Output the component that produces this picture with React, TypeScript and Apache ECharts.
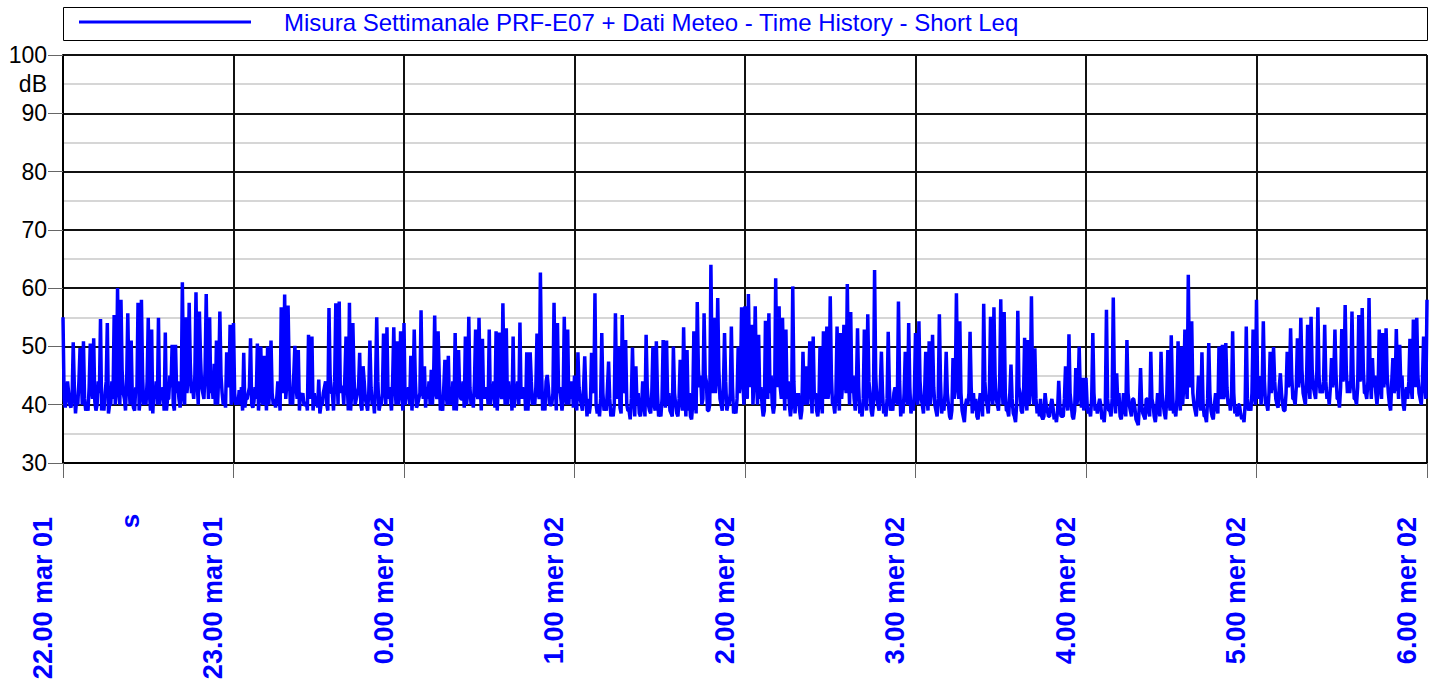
import React, { useEffect, useRef } from "react";
import * as echarts from "echarts";

const seriesName = "Misura Settimanale PRF-E07 + Dati Meteo - Time History - Short Leq";
const hourLabels = ["22.00 mar 01", "23.00 mar 01", "0.00 mer 02", "1.00 mer 02", "2.00 mer 02", "3.00 mer 02", "4.00 mer 02", "5.00 mer 02", "6.00 mer 02"];
const stepSeconds = 24;

// Short Leq (dB), hour by hour, three interleaved readings per 72 s:
// "a" = spikes / dips, "b" and "c" = body of the trace
const hour22a = [55, 41, 40, 50.7, 41, 49.7, 50.9, 40, 50.5, 51.4, 40, 54.7, 39, 54, 40, 55.4, 60, 58, 41, 55.7, 51, 39, 57.5, 58, 42, 54.9, 52.9, 41, 54.9, 42, 52.4, 41, 50.3, 50.3, 41, 61, 55, 57.5, 43, 59.3, 56, 42, 59, 55, 41, 51, 56, 40, 49, 53.7];
const hour22b = [41, 44, 39.5, 43, 40, 45, 41, 39, 43, 40.5, 44, 39, 42, 38.5, 44, 40, 43, 46, 39, 44, 41, 43, 39, 45, 40, 42, 38.5, 44, 40, 43, 39, 45, 40, 42, 39.5, 46, 42, 47, 41, 44, 48, 41, 46, 42, 47, 40, 45, 41, 44, 40];
const hour22c = [39.5, 42, 41, 38.5, 44, 40, 39, 43, 41, 39, 42, 40.5, 44, 40, 41, 43, 40, 42, 44, 40, 39.5, 42, 41, 40, 44, 39, 43, 40, 42, 39, 41, 43, 39, 44, 41, 40, 44, 42, 45, 40, 43, 46, 41, 44, 40, 45, 42, 39.5, 43, 41];
const hour23a = [54, 41, 40, 48.9, 41, 51.4, 40.5, 50.5, 50, 48.4, 50, 51, 41, 44, 56.7, 58.9, 57, 43, 50.1, 49.4, 41, 40, 52, 51.7, 40, 44.3, 40, 44, 56.6, 42, 57.4, 57.7, 43, 51.7, 57.5, 54, 41, 48.9, 46.6, 40, 51, 41, 55, 40, 52.2, 53.3, 41, 53.3, 50.9, 52.6];
const hour23b = [42, 40, 43, 39.5, 42, 40, 43, 39, 41, 44, 40, 42, 39.5, 42, 45, 41, 46, 40, 43, 39, 42, 40.5, 43, 39, 41, 38.5, 42, 40, 45, 39, 46, 42, 40, 44, 39, 45, 42, 40, 44, 39, 43, 38.5, 44, 40, 45, 41, 39, 44, 40, 43];
const hour23c = [40, 42.5, 39, 41, 43, 39.5, 41, 42, 40, 39, 43, 40, 41, 39, 42, 44, 40, 45, 41, 42, 40, 39, 41, 42, 39.5, 40, 43, 39, 42, 44, 40, 43, 45, 39, 42, 40, 43, 39, 41, 42, 40, 44, 39, 42, 40, 43, 44, 40, 42, 39];
const hour00a = [54, 41, 48.4, 52.9, 40, 56.2, 46.6, 41, 46, 55.3, 52.6, 40, 47.7, 48.4, 40, 52.3, 49.4, 41, 51.7, 55.1, 41, 52.9, 54.9, 51.3, 41, 52.9, 41, 52.6, 52.4, 57.4, 53.1, 41, 51.7, 42, 54.1, 41, 49, 49, 41, 52.2, 62.7, 42, 45.1, 40, 57.5, 54, 41, 55.1, 52.9, 41];
const hour00b = [40, 43, 39, 44, 41, 43, 39.5, 44, 40, 42, 45, 39, 42, 40, 44, 39, 42, 44, 40, 43, 39.5, 42, 44, 41, 43, 40, 44, 39, 42, 45, 40, 43, 39.5, 44, 41, 43, 39, 44, 40, 42, 46, 39, 43, 40, 44, 42, 39, 43, 40, 44];
const hour00c = [42, 40, 43, 39.5, 42, 41, 43, 40, 44, 41, 39, 43, 40, 42, 39, 43, 41, 39.5, 42, 40, 44, 41, 39, 43, 40, 42, 39.5, 43, 41, 40, 44, 39, 42, 40, 43, 39, 42, 40, 43, 41, 39, 44, 40, 42, 39, 43, 41, 40, 44, 39.5];
const hour01a = [45, 49, 40, 48.3, 41, 48.9, 59.1, 40, 52.3, 40, 47.4, 39, 55.7, 50, 55.4, 51.1, 39, 49.8, 46.6, 38.5, 44, 52, 39, 50, 50.9, 38.5, 51.1, 51, 39, 50, 38.5, 47.7, 53.3, 49.4, 38, 52.6, 57.6, 45, 55.7, 39, 64, 54.9, 58.3, 40, 52.3, 40, 53.4, 39, 50, 56.7];
const hour01b = [41, 43, 39, 42, 38.5, 43, 40, 38, 42, 39, 41, 38, 43, 39.5, 42, 40, 37.5, 42, 40, 38, 41, 43, 38.5, 40, 42, 38, 43, 40, 38.5, 42, 38, 41, 43, 39, 37.5, 42, 46, 40, 45, 39, 47, 42, 46, 39, 44, 40, 43, 38.5, 42, 45];
const hour01c = [39, 41, 43, 38, 40, 42, 38.5, 41, 39, 43, 38, 40, 41, 38.5, 43, 39, 41, 38, 42, 39.5, 38, 40, 42, 39, 38, 41, 39.5, 42, 38, 40, 41, 39, 38, 42, 40, 38.5, 43, 41, 44, 40, 42, 45, 41, 43, 39, 42, 38.5, 41, 44, 40];
const hour02a = [56.9, 59, 53.7, 56.9, 52, 40, 54.4, 55.7, 40, 61.7, 56.9, 54.9, 52.9, 40, 60.3, 42, 39, 49.1, 46.6, 50.9, 51.7, 39, 50, 52.6, 53.4, 58.6, 40, 53.4, 52.3, 53.7, 60.7, 55.9, 41, 53.1, 39, 52.9, 55.5, 39, 63.1, 40, 49.1, 39, 52.5, 40, 43, 57.7, 40, 49.1, 54, 40];
const hour02b = [44, 47, 40, 45, 41, 38, 44, 42, 38.5, 46, 43, 45, 41, 38, 44, 40, 37.5, 42, 40, 43, 41, 38, 42, 44, 41, 45, 38.5, 43, 41, 44, 46, 42, 39, 43, 38, 42, 44, 38, 45, 39, 42, 38, 43, 39, 41, 44, 38.5, 42, 43, 39];
const hour02c = [41, 43, 45, 40, 43, 39, 41, 45, 40, 43, 41, 39, 44, 40, 38.5, 42, 39, 40, 43, 38.5, 42, 40, 38.5, 41, 43, 40, 42, 39, 44, 42, 40, 45, 43, 38.5, 41, 39, 42, 40, 41, 43, 38.5, 41, 39, 42, 40, 38, 42, 40, 38.5, 42];
const hour03a = [52.3, 54.3, 40, 49.1, 50.9, 52, 39, 55.5, 40, 49.1, 38, 48, 59.1, 54.3, 38, 41, 52.5, 42, 38, 42, 57.3, 40, 55.1, 56.7, 40, 58.1, 55.9, 39, 46.9, 38, 56.1, 39, 51.5, 51.1, 58.6, 49.7, 40, 38, 42, 38, 41, 38, 44.1, 38, 46.6, 52.1, 38, 46.3, 50, 44.6];
const hour03b = [42, 44, 38.5, 42, 40, 43, 38, 44, 39, 42, 37.5, 41, 45, 42, 37, 40, 43, 39, 37.5, 41, 44, 38.5, 43, 45, 39, 44, 42, 38, 41, 37, 43, 38.5, 42, 40, 44, 41, 38, 37.5, 40, 38, 39.5, 37, 40, 38, 41, 42, 37.5, 40, 42, 39];
const hour03c = [40, 41, 42, 39, 43, 40, 41, 38.5, 42, 40, 39, 43, 41, 39, 40, 42, 38.5, 41, 40, 38, 41, 42, 40, 41, 43, 40, 39, 42, 38.5, 40, 42, 41, 39, 43, 40, 38.5, 41, 38, 39, 40, 37.5, 39, 38, 41, 39, 40, 39, 42, 39.5, 41];
const hour04a = [44.6, 39, 52.3, 40, 41, 38, 56.3, 39, 58.4, 45.4, 38, 42, 51.1, 39, 41, 37, 46.3, 38, 41, 49.1, 38, 42, 49.1, 38.5, 49.4, 51.9, 39, 50.9, 50, 52.9, 62.3, 54.3, 39, 45, 49, 38, 50.6, 38, 42, 50, 50.3, 50.6, 41, 52.6, 39, 40, 38, 53.4, 40, 52.9];
const hour04b = [40, 38, 42, 38.5, 40, 37, 41, 38, 43, 40, 37.5, 40, 42, 38, 39.5, 36.5, 40, 37.5, 39, 41, 37, 40, 42, 37.5, 41, 43, 38, 42, 40, 44, 45, 42, 38, 41, 40, 37, 42, 37.5, 40, 42, 41, 43, 39, 42, 38, 38.5, 37, 41, 39, 42];
const hour04c = [38.5, 41, 39, 40, 37.5, 40, 39, 41, 38.5, 42, 39, 38, 40, 41, 37.5, 40, 38.5, 41, 38, 40, 39, 38, 40, 41, 39, 38.5, 41, 39, 43, 41, 43, 40, 41, 39, 38, 41, 39, 40, 38.5, 41, 42, 40, 41, 38.5, 40, 37.5, 40, 39, 42, 40];
const hour05a = [58, 44.9, 54.3, 40, 49.1, 49.9, 40, 45.4, 39, 49.1, 53.1, 41, 51.4, 54.9, 41, 53.7, 55.1, 42, 56.7, 43, 53.7, 42, 48, 52.9, 41, 53, 57.1, 44, 56, 41, 55.4, 56.6, 42, 58.3, 48, 42, 52.9, 52.3, 53.1, 40, 48, 53, 50.3, 40, 43, 51.3, 54.6, 54.9, 41, 51.7, 58];
const hour05b = [43, 40, 44, 39, 42, 44, 39.5, 42, 39, 43, 45, 40, 43, 46, 40, 44, 46, 41, 45, 42, 44, 40, 43, 45, 39.5, 44, 46, 42, 45, 40, 44, 46, 41, 45, 43, 40, 44, 43, 45, 39, 42, 45, 43, 39, 41, 43, 46, 45, 40, 44];
const hour05c = [41, 43, 40, 42, 44, 41, 43, 40, 42, 44, 41, 43, 45, 42, 44, 41, 43, 45, 42, 44, 41, 43, 45, 41, 43, 45, 42, 44, 41, 43, 45, 42, 44, 41, 45, 43, 41, 45, 42, 44, 43, 41, 45, 42, 44, 41, 43, 42, 44, 41];

const hoursA = [hour22a, hour23a, hour00a, hour01a, hour02a, hour03a, hour04a, hour05a];
const hoursB = [hour22b, hour23b, hour00b, hour01b, hour02b, hour03b, hour04b, hour05b];
const hoursC = [hour22c, hour23c, hour00c, hour01c, hour02c, hour03c, hour04c, hour05c];

const yMin = 30;
const yMax = 100;
const yStep = 10;

export default function App() {
  const ref = useRef<HTMLDivElement>(null);
  useEffect(() => {
    if (!ref.current) return;
    document.body.style.margin = "0";
    const chart = echarts.init(ref.current, null, { renderer: "svg" });
    const values: number[] = [];
    hoursA.forEach((a, h) => {
      const b = hoursB[h];
      const c = hoursC[h];
      for (let k = 0; k < a.length; k++) {
        values.push(a[k]);
        if (k < b.length) values.push(b[k]);
        if (k < c.length) values.push(c[k]);
      }
    });
    const data = values.map((v, i) => [i * stepSeconds, v]);
    const totalSeconds = (hourLabels.length - 1) * 3600;
    chart.setOption({
      animation: false,
      textStyle: { fontFamily: "Liberation Sans, Arial, sans-serif" },
      grid: { left: 63, right: 10, top: 55, bottom: 219, containLabel: false, outerBoundsMode: "none" },
      legend: {
        show: true,
        left: 79,
        top: 10,
        itemWidth: 172,
        itemHeight: 3,
        padding: 0,
        data: [{ name: seriesName, icon: "rect" }],
        textStyle: { color: "#0000ff", fontSize: 24, fontFamily: "Liberation Sans, Arial, sans-serif", padding: [0, 0, 0, 28] },
      },
      graphic: [
        { type: "rect", shape: { x: 63.5, y: 7.5, width: 1364, height: 33 }, style: { fill: "none", stroke: "#000", lineWidth: 1 }, silent: true },
        { type: "text", x: 47, y: 84, style: { text: "dB", fontSize: 23, fontFamily: "Liberation Sans, Arial, sans-serif", fill: "#000", align: "right", verticalAlign: "middle" } },
        { type: "text", x: 130, y: 521, rotation: Math.PI / 2, style: { text: "s", fontSize: 26, fontWeight: "bold", fontFamily: "Liberation Sans, Arial, sans-serif", fill: "#0000ff", align: "center", verticalAlign: "middle" } },
      ],
      xAxis: {
        type: "value",
        min: 0,
        max: totalSeconds,
        interval: 3600,
        axisLine: { show: true, lineStyle: { color: "#000", width: 2 } },
        axisTick: { show: true, length: 15, lineStyle: { color: "#666", width: 1 } },
        splitLine: { show: true, lineStyle: { color: "#111", width: 2 } },
        axisLabel: {
          rotate: 90,
          margin: 54,
          color: "#0000ff",
          fontSize: 27,
          fontWeight: "bold",
          fontFamily: "Liberation Sans, Arial, sans-serif",
          verticalAlign: "bottom",
          padding: [0, 0, 7, 0],
          formatter: (v: number) => hourLabels[Math.round(v / 3600)] ?? "",
        },
      },
      yAxis: {
        type: "value",
        min: yMin,
        max: yMax,
        interval: yStep,
        axisLine: { show: true, lineStyle: { color: "#000", width: 2 } },
        axisTick: { show: true, length: 15, lineStyle: { color: "#666", width: 1 } },
        axisLabel: { margin: 16, color: "#000", fontSize: 23, fontFamily: "Liberation Sans, Arial, sans-serif" },
        splitLine: { show: true, lineStyle: { color: "#111", width: 2 } },
        minorTick: { show: false, splitNumber: 2 },
        minorSplitLine: { show: true, lineStyle: { color: "#c8c8c8", width: 1.5 } },
      },
      series: [
        {
          name: seriesName,
          type: "line",
          data,
          showSymbol: false,
          symbol: "none",
          lineStyle: { color: "#0000ff", width: 3.5 },
          itemStyle: { color: "#0000ff" },
        },
      ],
    });
    return () => chart.dispose();
  }, []);
  return <div ref={ref} style={{ width: 1437, height: 682 }} />;
}
